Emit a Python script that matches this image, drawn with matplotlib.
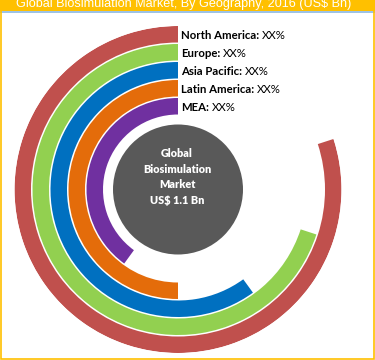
import numpy as np
import matplotlib.pyplot as plt
from matplotlib.patches import Rectangle

# data
regions = ["North America", "Europe", "Asia Pacific", "Latin America", "MEA"]
shares = [80, 70, 60, 50, 40]          # arc length in % of a full circle
share_labels = ["XX%", "XX%", "XX%", "XX%", "XX%"]
colors = ["#C0504D", "#92D050", "#0070C0", "#E46C0A", "#7030A0"]
title = "Global Biosimulation Market, By Geography, 2016 (US$ Bn)"
center_label = "Global\nBiosimulation\nMarket\nUS$ 1.1 Bn"

W, H = 375, 360
fig = plt.figure(figsize=(W / 100, H / 100), dpi=100)

# background layer in pixel coords (banner + frame)
bg = fig.add_axes([0, 0, 1, 1])
bg.set_xlim(0, W)
bg.set_ylim(H, 0)
bg.axis("off")
bg.add_patch(Rectangle((0, 0), W, 11, color="#FFC000", lw=0))
bg.add_patch(Rectangle((0, 11), W, 2, color="#9DC3E6", lw=0))
bg.add_patch(Rectangle((0.8, 0), W - 1.6, H - 0.8, fill=False, ec="#FFC000", lw=1.2))
bg.text(184, 7, title, color="white", fontsize=9.1, family="Liberation Sans",
        ha="center", va="baseline")

# radial bars
cx, cy, R = 178, 189.5, 163.5
ax = fig.add_axes([(cx - R) / W, (H - cy - R) / H, 2 * R / W, 2 * R / H], projection="polar")
ax.set_theta_zero_location("N")
ax.set_theta_direction(1)
ax.set_ylim(0, R)
ax.axis("off")

pitch, thick = 18, 16.5
for i, (name, share, lab, col) in enumerate(zip(regions, shares, share_labels, colors)):
    outer = R - i * pitch
    ax.bar(0, thick, width=share / 100 * 2 * np.pi, bottom=outer - thick,
           align="edge", color=col, linewidth=0)
    t1 = ax.annotate(name + ":", xy=(0, outer - thick / 2), xytext=(3, -1),
                     textcoords="offset pixels", ha="left", va="center",
                     fontsize=8.2, fontweight="bold", family="Lato", color="black")
    ax.annotate(lab, xy=(1, 0.5), xycoords=t1, xytext=(3, 0), textcoords="offset pixels",
                ha="left", va="center", fontsize=8.2, family="Lato", color="black")

# centre disc
ax.bar(0, 65, width=2 * np.pi, bottom=0, color="#595959", linewidth=0)
ax.annotate(center_label, xy=(0, 0), xytext=(-1, 12.5), textcoords="offset pixels",
            color="white", fontsize=7.8, fontweight="heavy", family="Lato",
            ha="center", va="center", linespacing=1.55)

fig.savefig("out.png", dpi=100)
